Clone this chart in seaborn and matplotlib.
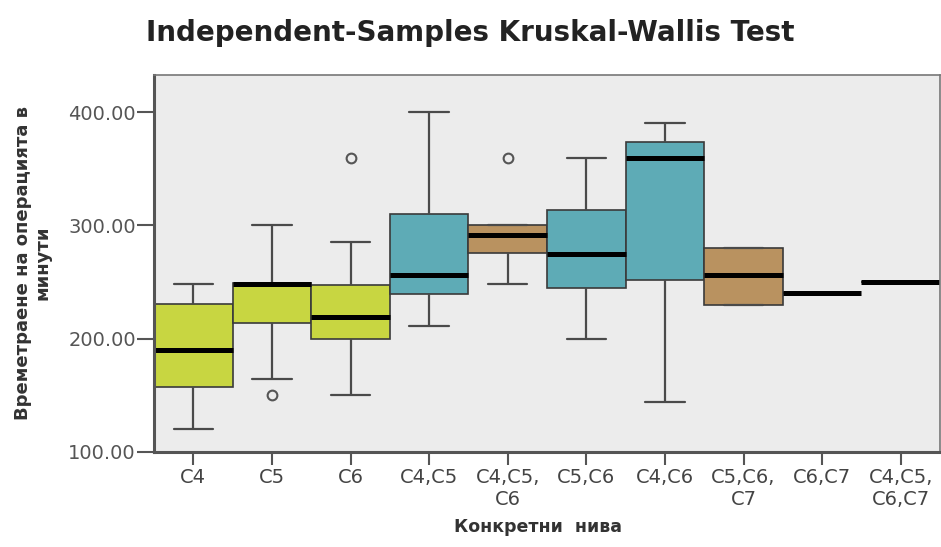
import numpy as np
import pandas as pd
import seaborn as sns
import matplotlib
matplotlib.use('Agg')
import matplotlib.pyplot as plt

# Групи (конкретни нива) и подписи на оста X
groups = ['C4', 'C5', 'C6', 'C4,C5', 'C4,C5,C6', 'C5,C6', 'C4,C6', 'C5,C6,C7', 'C6,C7', 'C4,C5,C6,C7']
tick_labels = ['C4', 'C5', 'C6', 'C4,C5', 'C4,C5,\nC6', 'C5,C6', 'C4,C6', 'C5,C6,\nC7', 'C6,C7', 'C4,C5,\nC6,C7']

# Времетраене на операцията (минути), отчетено от графиката
c4 = [120, 157, 190, 231, 248]
c5 = [150, 164, 214, 230, 248, 248, 249, 270, 300]
c6 = [150, 180, 200, 210, 219, 235, 247, 285, 360]
c4_c5 = [211, 239, 256, 310, 400]
c4_c5_c6 = [248, 270, 276, 285, 292, 298, 300, 300, 360]
c5_c6 = [200, 245, 275, 314, 360]
c4_c6 = [144, 252, 360, 374, 391]
c5_c6_c7 = [230, 230, 256, 280, 280]
c6_c7 = [240]
c4_c5_c6_c7 = [250]

values = [c4, c5, c6, c4_c5, c4_c5_c6, c5_c6, c4_c6, c5_c6_c7, c6_c7, c4_c5_c6_c7]

# Цветове като в SPSS: едно ниво - жълто-зелено, две - синьо-зелено, три - бежово
yellow = '#c8d641'
teal = '#5eabb6'
tan = '#b99260'
box_colors = [yellow, yellow, yellow, teal, tan, teal, teal, tan, teal, tan]

df = pd.DataFrame({
    'group': np.repeat(groups, [len(v) for v in values]),
    'minutes': np.concatenate(values),
})

sns.set_theme(style='white')
plt.rcParams['font.family'] = ['DejaVu Sans']

fig = plt.figure(figsize=(9.41, 5.47), dpi=100)
ax = fig.add_axes([0.1637, 0.1742, 0.8353, 0.6887])
ax.set_facecolor('#ececec')

sns.boxplot(data=df, x='group', y='minutes', hue='group', order=groups, hue_order=groups,
            palette=dict(zip(groups, box_colors)), saturation=1, width=1.0, gap=0,
            legend=False, linecolor='#3a3a3a', linewidth=1.2, whis=1.5,
            medianprops=dict(color='black', linewidth=3.6),
            whiskerprops=dict(color='#4a4a4a', linewidth=1.6),
            capprops=dict(color='#4a4a4a', linewidth=1.6),
            flierprops=dict(marker='o', markerfacecolor='none', markeredgecolor='#555555',
                            markersize=7, markeredgewidth=1.5),
            ax=ax)

ax.set_xlim(-0.5, len(groups) - 0.5)
ax.set_ylim(100, 433)
ax.set_yticks([100, 200, 300, 400])
ax.set_yticklabels([f'{v:.2f}' for v in [100, 200, 300, 400]])
ax.set_xticks(range(len(groups)))
ax.set_xticklabels(tick_labels)
ax.tick_params(axis='y', length=12, width=1.5, color='#555555', labelsize=14,
               labelcolor='#555555', pad=1, left=True)
ax.tick_params(axis='x', length=9, width=1.5, color='#555555', labelsize=14,
               labelcolor='#444444', pad=3, bottom=True)
for side in ['left', 'bottom']:
    ax.spines[side].set_color('#555555')
    ax.spines[side].set_linewidth(2.2)
for side in ['top', 'right']:
    ax.spines[side].set_color('#777777')
    ax.spines[side].set_linewidth(1.2)
ax.set_xlabel('')
ax.set_ylabel('')

fig.text(0.5, 1 - 41 / 547, 'Independent-Samples Kruskal-Wallis Test', ha='center',
         va='baseline', fontsize=20, fontweight='bold', color='#222222')
fig.text(33 / 941, 0.52, 'Времетраене на операцията в\nминути', rotation=90, ha='center',
         va='center', multialignment='center', fontsize=13, fontweight='bold',
         color='#333333', linespacing=1.1)
fig.text(0.572, 1 - 527 / 547, 'Конкретни  нива', ha='center', va='center', fontsize=12.5,
         fontweight='bold', color='#333333')

fig.savefig('out.png', dpi=100)
